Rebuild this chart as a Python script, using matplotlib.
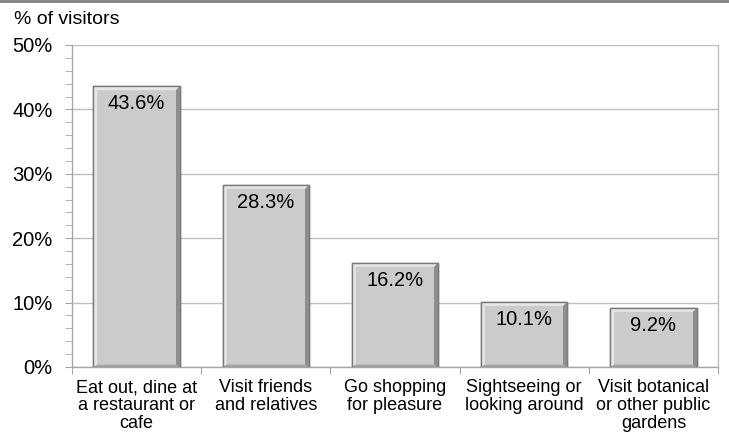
import matplotlib
matplotlib.use("Agg")
import matplotlib.pyplot as plt
from matplotlib.patches import Polygon
from matplotlib.lines import Line2D

plt.rcParams['font.family'] = ['Liberation Sans', 'DejaVu Sans']

categories = ["Eat out, dine at\na restaurant or\ncafe",
              "Visit friends\nand relatives",
              "Go shopping\nfor pleasure",
              "Sightseeing or\nlooking around",
              "Visit botanical\nor other public\ngardens"]
values = [43.6, 28.3, 16.2, 10.1, 9.2]
yticks = [0, 10, 20, 30, 40, 50]
ylabel = "% of visitors"

W, H = 729, 437
fig = plt.figure(figsize=(W/100, H/100), dpi=100)
L, R, T, B = 72, 718, 45, 367
ax = fig.add_axes([L/W, 1-B/H, (R-L)/W, (B-T)/H])
ax.set_xlim(-0.5, len(values)-0.5)
ax.set_ylim(0, 50)

gcol = '#bfbfbf'
ax.set_axisbelow(True)
ax.yaxis.grid(True, color=gcol, lw=1)
for s in ['left', 'bottom', 'right']:
    ax.spines[s].set_color('#a6a6a6' if s != 'right' else gcol)
    ax.spines[s].set_linewidth(1)
ax.spines['top'].set_visible(False)

ax.set_yticks(yticks)
ax.set_yticklabels([f"{v}%" for v in yticks], fontsize=14.5)
ax.set_yticks(range(0, 51, 2), minor=True)
ax.tick_params(axis='y', which='both', direction='out', length=5, color='#a6a6a6', pad=9)

xs = list(range(len(values)))
ax.set_xticks([x - 0.5 for x in xs] + [len(values) - 0.5])
ax.set_xticklabels([])
ax.tick_params(axis='x', which='major', direction='out', length=5, color='#a6a6a6')
ax.set_xticks(xs, minor=True)
ax.set_xticklabels(categories, minor=True, fontsize=13, linespacing=1.05)
ax.tick_params(axis='x', which='minor', length=0, pad=9)

bw = 0.67
ax.bar(xs, values, width=bw, color='#cbcbcb', edgecolor='#7a7a7a', lw=1, zorder=2)

# bevel sizes in data units (about 4 px)
px_x = (len(values)) / (R - L)
px_y = 50 / (B - T)
bx, by = 4 * px_x, 4 * px_y
for x, v in zip(xs, values):
    x0, x1 = x - bw/2, x + bw/2
    ax.add_patch(Polygon([(x0, 0), (x0, v), (x1, v), (x1 - bx, v - by), (x0 + bx, v - by), (x0 + bx, 0)],
                         closed=True, facecolor='#e6e6e6', edgecolor='none', zorder=3))
    ax.add_patch(Polygon([(x1, v), (x1, 0), (x1 - bx, 0), (x1 - bx, v - by)],
                         closed=True, facecolor='#8e8e8e', edgecolor='none', zorder=3))
    ax.add_patch(Polygon([(x0, 0), (x1, 0), (x1 - bx, by*0.6), (x0 + bx, by*0.6)],
                         closed=True, facecolor='#a8a8a8', edgecolor='none', zorder=3))
    ax.add_patch(plt.Rectangle((x0, 0), bw, v, facecolor='none', edgecolor='#7a7a7a', lw=1, zorder=4))
    ax.text(x, v - 8 * px_y, f"{v}%", ha='center', va='top', fontsize=14.5, zorder=5)

fig.text(14/W, 1-20/H, ylabel, fontsize=14, ha='left', va='center')
fig.add_artist(Line2D([0, 1], [1 - 1/H, 1 - 1/H], color='#7f7f7f', lw=2, transform=fig.transFigure))

fig.savefig('out.png', dpi=100)
